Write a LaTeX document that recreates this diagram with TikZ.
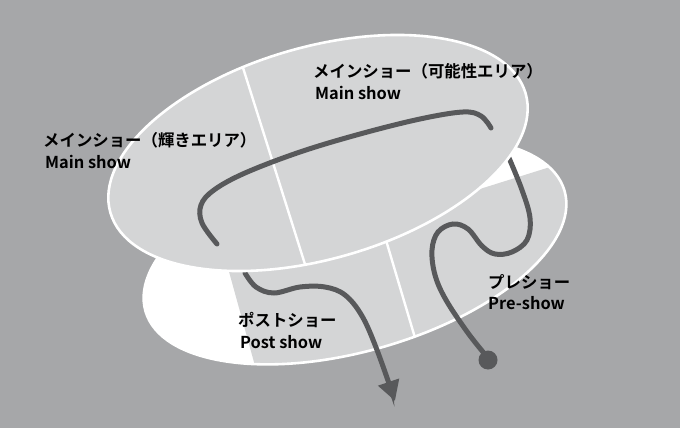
\documentclass[tikz,border=0pt]{standalone}
\usepackage{fontspec}
\usetikzlibrary{arrows.meta}
\newfontfamily\jpfont{Noto Sans CJK JP}[BoldFont={Noto Sans CJK JP Bold}]
\definecolor{bgc}{HTML}{A6A7A9}
\definecolor{zonec}{HTML}{D4D5D6}
\definecolor{pathc}{HTML}{58595B}
\tikzset{
  rim/.style={draw=white, line width=2.6pt},
  divider/.style={draw=white, line width=2.4pt},
  route/.style={draw=pathc, line width=5pt, line cap=round},
  lbl/.style={anchor=west, inner sep=0pt, font=\jpfont\bfseries\fontsize{16.4}{19}\selectfont, text=black}
}
\begin{document}
\begin{tikzpicture}[x=1pt, y=-1pt]
\useasboundingbox (0,0) rectangle (680,428);
\fill[bgc] (0,0) rectangle (680,428);
% lower disc
\fill[white] (355,251) [rotate around={16:(355,251)}] ellipse [x radius=218, y radius=100];
\begin{scope}
  \clip (355,251) [rotate around={16:(355,251)}] ellipse [x radius=218, y radius=100];
  \fill[zonec] (228,268) -- (700,120) -- (700,460) -- (281,460) -- cycle;
  \draw[divider] (380,220) -- (421,358);
\end{scope}
\draw[rim] (355,251) [rotate around={16:(355,251)}] ellipse [x radius=218, y radius=100];
% routes on lower disc
\draw[route, -{Triangle[length=20pt, width=21pt]}] plot[smooth, tension=0.6] coordinates {(245,273) (256,287) (274,293) (300,287) (325,287) (345,295) (362,316) (377,350) (395,401)};
\draw[route] plot[smooth, tension=0.6] coordinates {(509,158) (522,190) (530,218) (527,240) (512,252) (495,254) (482,246) (468,229) (453,224) (438,232) (432,250) (435,275) (446,300) (468,333) (488,358)};
\fill[pathc] (488,360) circle (9.5);
% upper disc
\fill[zonec] (318,153) [rotate around={16:(318,153)}] ellipse [x radius=216, y radius=106];
\begin{scope}
  \clip (318,153) [rotate around={16:(318,153)}] ellipse [x radius=216, y radius=106];
  \draw[divider] (239,55) -- (309,277);
\end{scope}
\draw[rim] (318,153) [rotate around={16:(318,153)}] ellipse [x radius=216, y radius=106];
\draw[route] plot[smooth, tension=0.6] coordinates {(217,244) (202,223) (201,205) (214,190) (245,173) (300,152) (360,134) (420,119) (463,112) (481,116) (491,128)};
% labels
\node[lbl] (l1a) at (313,71) {メインショー（可能性エリア）};
\node[lbl] (l1b) at (315,93) {Main show};
\node[lbl] (l2a) at (43,140) {メインショー（輝きエリア）};
\node[lbl] (l2b) at (45,162) {Main show};
\node[lbl] (l3a) at (238,320) {ポストショー};
\node[lbl] (l3b) at (240,342) {Post show};
\node[lbl] (l4a) at (488,282) {プレショー};
\node[lbl] (l4b) at (488,303) {Pre-show};
\end{tikzpicture}
\end{document}
